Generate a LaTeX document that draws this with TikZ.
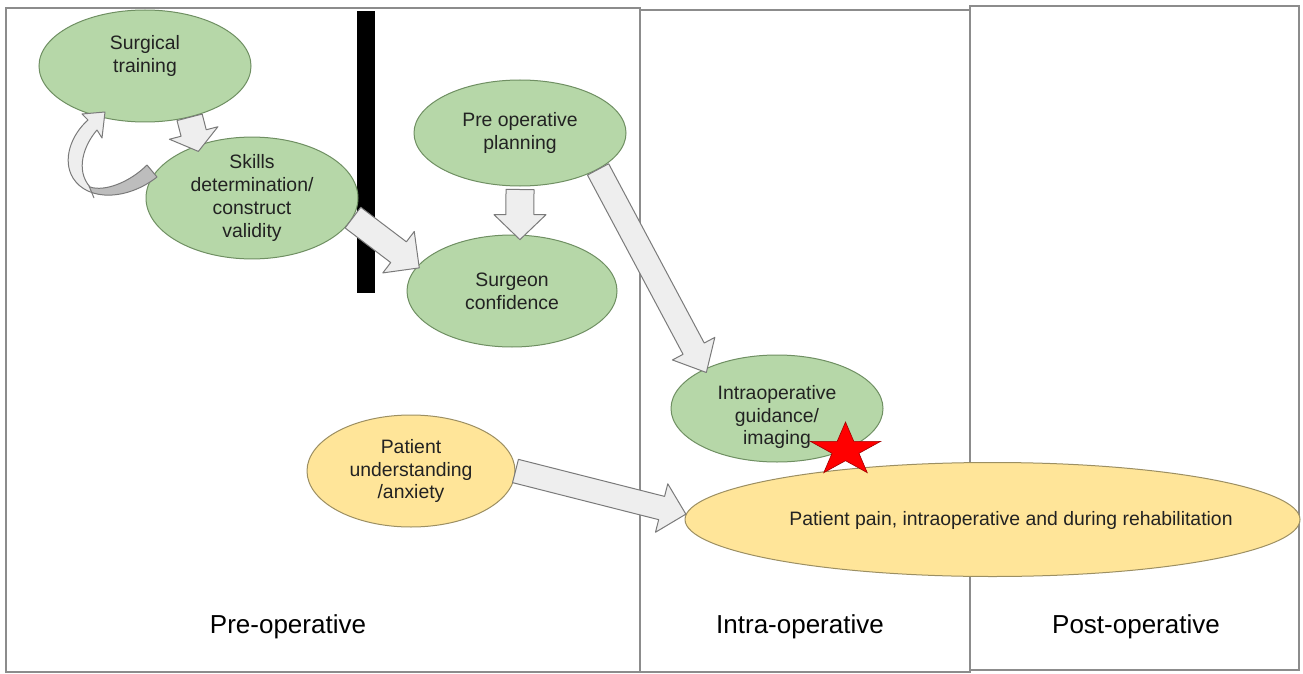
\documentclass[tikz,border=0pt]{standalone}
\usepackage{fontspec}
\setmainfont{Liberation Sans}
\usetikzlibrary{calc,shapes.geometric}

\definecolor{greenfill}{HTML}{B6D7A8}
\definecolor{greenline}{HTML}{6F8F62}
\definecolor{yellowfill}{HTML}{FFE599}
\definecolor{yellowline}{HTML}{9C8F62}
\definecolor{arrowfill}{HTML}{EEEEEE}
\definecolor{arrowline}{HTML}{7A7A7A}
\definecolor{ribbondark}{HTML}{BDBDBD}
\definecolor{panelline}{HTML}{8C8C8C}
\definecolor{textgrey}{HTML}{222222}
\definecolor{starred}{HTML}{FF0000}
\definecolor{staredge}{HTML}{A00000}

\newcommand\diagnodefont{\fontsize{19.4}{22.7}\selectfont}
\newcommand\diagphasefont{\fontsize{26}{30}\selectfont}

\tikzset{
  panel/.style={draw=panelline, line width=1.6pt},
  bubble/.style={ellipse, line width=1pt, inner sep=0pt, align=center,
    font=\diagnodefont, text=textgrey},
  greenell/.style={bubble, draw=greenline, fill=greenfill},
  yellowell/.style={bubble, draw=yellowline, fill=yellowfill},
  nodetext/.style={align=center, font=\diagnodefont, text=textgrey, inner sep=0pt},
  phase/.style={font=\diagphasefont, text=black, inner sep=0pt, anchor=base},
  arrowshape/.style={draw=arrowline, fill=arrowfill, line width=1pt, line join=round},
  starshape/.style={draw=staredge, fill=starred, line width=0.6pt, line join=miter},
}

% block arrow: tail, tip, shaft half-width, head half-width, head length (pt)
\newcommand\blockarrow[5]{%
  \coordinate (ba-t) at #1;
  \coordinate (ba-h) at #2;
  \coordinate (ba-b) at ($(ba-h)!#5pt!(ba-t)$);
  \draw[arrowshape]
    ($(ba-t)!#3pt!90:(ba-h)$) -- ($(ba-b)!#3pt!-90:(ba-t)$)
    -- ($(ba-b)!#4pt!-90:(ba-t)$) -- (ba-h)
    -- ($(ba-b)!#4pt!90:(ba-t)$) -- ($(ba-b)!#3pt!90:(ba-t)$)
    -- ($(ba-t)!#3pt!-90:(ba-h)$) -- cycle;
}

% curved return arrow from the skills bubble back to training
\def\ribbon{(157,177) .. controls (128,200) and (88,202) .. (73,178)
  .. controls (62,160) and (71,135) .. (88,120) -- (82,114) -- (105,112)
  -- (102,138) -- (97,130) .. controls (84,145) and (75,170) .. (90,187)
  .. controls (105,192) and (130,182) .. (147,165) -- cycle}

\begin{document}
\begin{tikzpicture}[x=1pt,y=-1pt]
\useasboundingbox (0,0) rectangle (1303,674);
\fill[white] (0,0) rectangle (1303,674);

% phase panels
\draw[panel] (6,8) rectangle (640,672);
\draw[panel] (640,10) rectangle (970,672);
\draw[panel] (970,6) rectangle (1299,670);

% separator bar
\fill[black] (357,11) rectangle (375,293);

% bubbles
\node[greenell, minimum width=212pt, minimum height=112pt] (surg) at (145,66) {};
\node[nodetext] (surgtxt) at (145,56) {Surgical\\training};

\node[greenell, minimum width=212pt, minimum height=112pt] (skills) at (252,198)
  {Skills\\determination/\\construct\\validity};

\node[greenell, minimum width=212pt, minimum height=106pt] (plan) at (520,133)
  {Pre operative\\planning};

\node[greenell, minimum width=210pt, minimum height=112pt] (surgeon) at (512,291)
  {Surgeon\\confidence};

\node[greenell, minimum width=212pt, minimum height=107pt] (intra) at (777,408.5) {};
\node[nodetext] (intratxt) at (777,417) {Intraoperative\\guidance/\\imaging};

\node[yellowell, minimum width=208pt, minimum height=112pt] (patient) at (411,471)
  {Patient\\understanding\\/anxiety};

\node[yellowell, minimum width=615pt, minimum height=114pt] (pain) at (992.5,519.5) {};
\node[nodetext] (paintxt) at (1011,520) {Patient pain, intraoperative and during rehabilitation};

% connectors
\blockarrow{(surg.-49)}{($(skills.139)!7pt!(skills.center)$)}{13}{25}{19}
\blockarrow{(skills.-11)}{($(surgeon.166)!3pt!(surgeon.center)$)}{13}{26}{26}
\blockarrow{($(plan.-90)+(0,3)$)}{($(surgeon.82)+(0,5)$)}{14}{26}{25}
\blockarrow{(plan.-25)}{($(intra.153)!5pt!(intra.center)$)}{12}{24}{27}
\blockarrow{(patient.0)}{(pain.179)}{12}{25}{25}

% curved feedback arrow
\fill[arrowfill] \ribbon;
\begin{scope}
  \clip \ribbon;
  \fill[ribbondark] (89,186) -- (94,199) -- (175,215) -- (175,150) -- (120,150) -- cycle;
\end{scope}
\draw[draw=arrowline, line width=1pt, line join=round] \ribbon;
\draw[draw=arrowline, line width=1pt] (89,186) -- (94,198);

% marker star
\begin{scope}[shift={(845.5,450)}, x={(37pt,0pt)}, y={(0pt,28pt)}]
  \draw[starshape] (90:1) -- (126:0.382) -- (162:1) -- (198:0.382) -- (234:1)
    -- (270:0.382) -- (306:1) -- (342:0.382) -- (18:1) -- (54:0.382) -- cycle;
\end{scope}

% phase labels
\node[phase] (prelbl) at (288,633) {Pre-operative};
\node[phase] (intralbl) at (800,633) {Intra-operative};
\node[phase] (postlbl) at (1136,633) {Post-operative};
\end{tikzpicture}
\end{document}
